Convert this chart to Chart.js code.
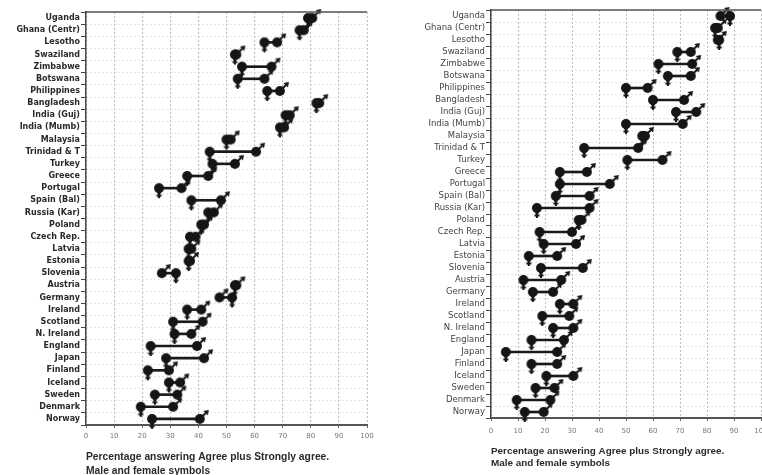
<!DOCTYPE html>
<html>
<head>
<meta charset="utf-8">
<script src="https://cdn.jsdelivr.net/npm/chart.js@4.4.0/dist/chart.umd.min.js"></script>
<style>
html, body { margin: 0; padding: 0; background: #fff; overflow: hidden; width: 762px; height: 475px; }
#left { position: absolute; left: 0; top: 0; width: 380px; height: 478px; }
#right { position: absolute; left: 380px; top: 0; width: 402px; height: 475px; }
</style>
</head>
<body>
<div id="left"><canvas id="chart-left"></canvas></div>
<div id="right"><canvas id="chart-right"></canvas></div>
<script>
// Paises (mismo orden en los dos paneles)
const countries = [
    'Uganda', 'Ghana (Centr)', 'Lesotho', 'Swaziland', 'Zimbabwe', 'Botswana',
    'Philippines', 'Bangladesh', 'India (Guj)', 'India (Mumb)', 'Malaysia',
    'Trinidad & T', 'Turkey', 'Greece', 'Portugal', 'Spain (Bal)', 'Russia (Kar)',
    'Poland', 'Czech Rep.', 'Latvia', 'Estonia', 'Slovenia', 'Austria', 'Germany',
    'Ireland', 'Scotland', 'N. Ireland', 'England', 'Japan', 'Finland', 'Iceland',
    'Sweden', 'Denmark', 'Norway'
];

// Panel izquierdo: % de acuerdo, mujeres y hombres
const leftFemale = [79, 76, 63.5, 53, 55.5, 54, 64.5, 82, 71, 69, 50, 44, 45, 36, 26, 37.5, 43.5,
    41, 37, 36.5, 36.5, 32, 53, 52, 36, 31, 31.5, 23, 28.5, 22, 29.5, 24.5, 19.5, 23.5];
const leftMale = [80.5, 77.5, 68, 53.5, 66, 63.5, 69, 83, 72.5, 70.5, 51.5, 60.5, 53, 43.5, 34, 48, 45.5,
    42, 39, 37.5, 37, 27, 53.5, 47.5, 41, 41.5, 37.5, 39.5, 42, 29.5, 33.5, 32.5, 31, 40.5];

// Panel derecho
const rightFemale = [88.5, 83, 84.5, 69, 62, 65.5, 50, 60, 68.5, 50, 56, 34.5, 50.5, 25.5, 25.5, 24, 17,
    32.5, 18, 19.5, 14, 18.5, 12, 15.5, 25.5, 19, 23, 15, 5.5, 15, 20.5, 16.5, 9.5, 12.5];
const rightMale = [85, 84, 84, 74, 74.5, 74, 58, 71.5, 76, 71, 57, 54.5, 63.5, 35.5, 44, 36.5, 36.5,
    33.5, 30, 31.5, 24.5, 34, 26, 23, 30.5, 29, 30.5, 27, 24.5, 24.5, 30.5, 23.5, 22, 19.5];

const xMin = 0;
const xMax = 100;
const xStep = 10;
const captionLines = ['Percentage answering Agree plus Strongly agree.', 'Male and female symbols'];

// Simbolos: circulo con cola abajo (mujer) y circulo con flecha (hombre)
function femaleSymbol() {
    const c = document.createElement('canvas');
    c.width = 22; c.height = 22;
    const g = c.getContext('2d');
    g.fillStyle = '#151515';
    g.strokeStyle = '#151515';
    g.lineWidth = 2;
    g.beginPath(); g.arc(11, 11, 5, 0, Math.PI * 2); g.fill();
    g.beginPath(); g.moveTo(8, 14); g.lineTo(14, 14); g.lineTo(11, 19); g.closePath(); g.fill();
    g.beginPath(); g.moveTo(11, 16); g.lineTo(11, 21); g.moveTo(8.5, 18.5); g.lineTo(13.5, 18.5); g.stroke();
    return c;
}

function maleSymbol() {
    const c = document.createElement('canvas');
    c.width = 22; c.height = 22;
    const g = c.getContext('2d');
    g.fillStyle = '#151515';
    g.strokeStyle = '#151515';
    g.lineWidth = 2;
    g.beginPath(); g.arc(11, 11, 5, 0, Math.PI * 2); g.fill();
    g.beginPath(); g.moveTo(13.5, 8.5); g.lineTo(17, 5); g.stroke();
    g.beginPath(); g.moveTo(20, 2); g.lineTo(14.5, 3); g.lineTo(19, 7.5); g.closePath(); g.fill();
    return c;
}

const femaleImg = femaleSymbol();
const maleImg = maleSymbol();

// Linea superior del marco
const topFrame = {
    id: 'topFrame',
    afterDraw(chart) {
        const { ctx, chartArea } = chart;
        ctx.save();
        ctx.strokeStyle = '#555';
        ctx.lineWidth = 1.5;
        ctx.beginPath();
        ctx.moveTo(chartArea.left, chartArea.top);
        ctx.lineTo(chartArea.right, chartArea.top);
        ctx.stroke();
        ctx.restore();
    }
};

function createPanel(canvasId, female, male, cfg) {
    const ctx = document.getElementById(canvasId).getContext('2d');

    new Chart(ctx, {
        type: 'bar',
        data: {
            labels: countries,
            datasets: [
                {
                    data: countries.map((_, i) => [Math.min(female[i], male[i]), Math.max(female[i], male[i])]),
                    backgroundColor: '#1a1a1a',
                    barThickness: 2,
                    borderSkipped: false,
                    order: 3,
                },
                {
                    type: 'line',
                    indexAxis: 'y',
                    data: female,
                    showLine: false,
                    pointStyle: femaleImg,
                    pointRadius: 8,
                    order: 2,
                },
                {
                    type: 'line',
                    indexAxis: 'y',
                    data: male,
                    showLine: false,
                    pointStyle: maleImg,
                    pointRadius: 8,
                    order: 1,
                },
            ],
        },
        options: {
            indexAxis: 'y',
            responsive: true,
            maintainAspectRatio: false,
            animation: false,
            layout: { padding: cfg.padding },
            plugins: {
                legend: { display: false },
                tooltip: { enabled: false },
            },
            scales: {
                x: {
                    type: 'linear',
                    min: xMin,
                    max: xMax,
                    ticks: {
                        stepSize: xStep,
                        color: '#777',
                        font: { family: 'DejaVu Sans', size: 7 },
                        padding: cfg.xTickPadding,
                        maxRotation: 0,
                        autoSkip: false,
                    },
                    grid: {
                        color: '#bdbdbd',
                        tickLength: 3,
                        tickColor: '#666',
                        tickBorderDash: [],
                    },
                    border: { color: '#555', width: 2, dash: [2, 2] },
                    title: {
                        display: true,
                        text: captionLines,
                        align: 'start',
                        color: '#2a2a2a',
                        font: { family: 'Liberation Sans', size: cfg.captionSize, weight: 'bold', lineHeight: cfg.captionLine },
                        padding: { top: 0, bottom: cfg.captionPad },
                    },
                    afterFit(scale) {
                        scale.height = cfg.xHeight;
                    },
                },
                y: {
                    type: 'category',
                    offset: true,
                    ticks: {
                        autoSkip: false,
                        color: cfg.labelColor,
                        font: { family: 'DejaVu Sans', size: cfg.labelSize, weight: cfg.labelWeight },
                        padding: 1,
                    },
                    grid: {
                        color: '#c8c8c8',
                        tickLength: 5,
                        tickColor: '#444',
                        tickBorderDash: [],
                    },
                    border: { color: '#444', width: 1.5, dash: [1, 3] },
                    afterFit(scale) {
                        scale.width = cfg.yWidth;
                        scale.paddingTop = 0;
                        scale.paddingBottom = 0;
                    },
                },
            },
        },
        plugins: [topFrame],
    });
}

createPanel('chart-left', leftFemale, leftMale, {
    padding: { left: 0, right: 13, top: 12, bottom: 0 },
    yWidth: 86,
    xHeight: 53,
    xTickPadding: 4,
    captionSize: 10.3,
    captionLine: 1.36,
    captionPad: 0,
    labelColor: '#2a2a2a',
    labelSize: 8,
    labelWeight: 'bold',
});

createPanel('chart-right', rightFemale, rightMale, {
    padding: { left: 0, right: 21, top: 10, bottom: 0 },
    yWidth: 111,
    xHeight: 57,
    xTickPadding: 6,
    captionSize: 9.9,
    captionLine: 1.21,
    captionPad: 6,
    labelColor: '#444',
    labelSize: 8.5,
    labelWeight: 'normal',
});
</script>
</body>
</html>
